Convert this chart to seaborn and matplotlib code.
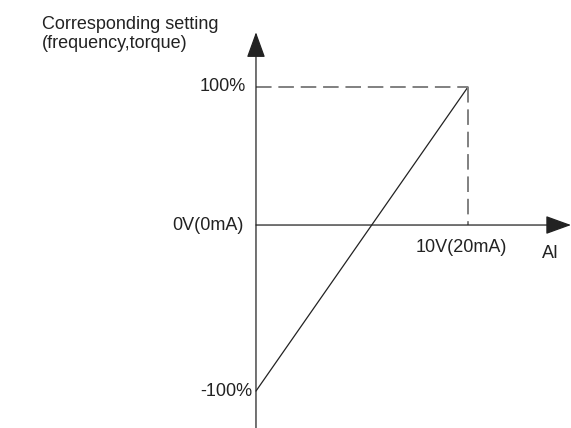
import matplotlib
matplotlib.use('Agg')
import matplotlib.pyplot as plt
import pandas as pd
import seaborn as sns

# data of the diagram
ai_values = [0, 10]
setting_values = [-100, 100]
y_tick_labels = ['100%', '0V(0mA)', '-100%']
x_tick_label = '10V(20mA)'
axis_zero = 9.2  # where the AI axis meets the vertical axis (schematic)

sns.set_style('white')
plt.rcParams['font.family'] = ['Liberation Sans', 'DejaVu Sans']

fig = plt.figure(figsize=(5.71, 4.28), dpi=100)
ax = fig.add_axes([0, 0, 1, 1])
ax.set_xlim(-12.075, 14.86)
ax.set_ylim(-124.3, 157.2)
ax.axis('off')

df = pd.DataFrame({'AI': ai_values, 'setting': setting_values})
sns.lineplot(data=df, x='AI', y='setting', ax=ax, color='#222222', lw=0.9)

# dashed guides to 10V / 100%
x_max, y_max = ai_values[1], setting_values[1]
ax.plot([0, x_max], [y_max, y_max], color='#808080', lw=1.4, dashes=(8, 3.5))
ax.plot([x_max, x_max], [y_max, axis_zero], color='#808080', lw=1.4, dashes=(8, 3.5))

# axes with arrow heads
arrow = dict(arrowstyle='-|>,head_length=1.6,head_width=0.58', color='#222222',
             lw=0.9, mutation_scale=10, shrinkA=0, shrinkB=0)
ax.annotate('', xy=(0, 136), xytext=(0, -124.3), arrowprops=arrow, annotation_clip=False)
ax.annotate('', xy=(14.86, axis_zero), xytext=(0, axis_zero), arrowprops=arrow,
            annotation_clip=False)

# labels
fs = 13
ax.text(-10.1, 147, 'Corresponding setting\n(frequency,torque)', fontsize=fs,
        ha='left', va='top', color='#222222', linespacing=1.2)
ax.text(-0.5, y_max, y_tick_labels[0], fontsize=fs, ha='right', va='center', color='#222222')
ax.text(-0.6, axis_zero, y_tick_labels[1], fontsize=fs, ha='right', va='center', color='#222222')
ax.text(-0.15, setting_values[0], y_tick_labels[2], fontsize=fs, ha='right', va='center', color='#222222')
ax.text(x_max - 0.3, axis_zero - 15, x_tick_label, fontsize=fs, ha='center', va='center', color='#222222')
ax.text(13.9, axis_zero - 19, 'AI', fontsize=fs, ha='center', va='center', color='#222222')

fig.savefig('out.png', dpi=100)
